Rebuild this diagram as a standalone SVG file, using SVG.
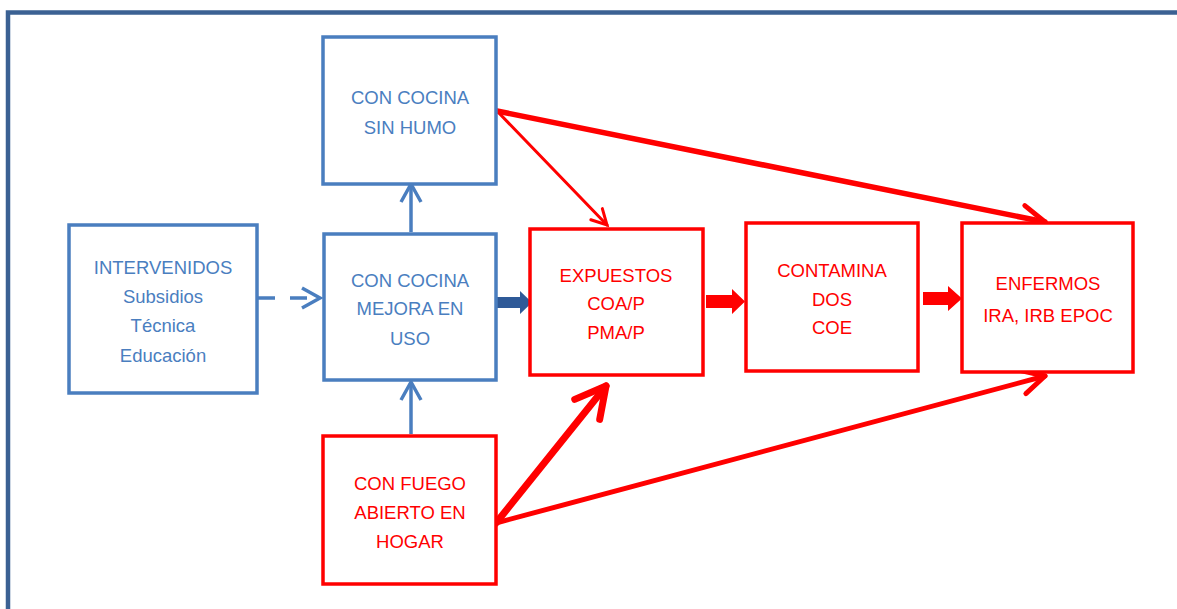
<svg xmlns="http://www.w3.org/2000/svg" width="1177" height="609" viewBox="0 0 1177 609">
<defs>
<style>
.bb{fill:#fff;stroke:#4a7ebf;stroke-width:3.5}
.rb{fill:#fff;stroke:#ff0000;stroke-width:3.5}
.bt{fill:#4a7ebf;font-family:"Liberation Sans",Arial,sans-serif;font-size:18.5px;text-anchor:middle}
.rt{fill:#ff0000;font-family:"Liberation Sans",Arial,sans-serif;font-size:18.5px;text-anchor:middle}
.bl{fill:none;stroke:#4a7ebf;stroke-width:3.5}
.rl{fill:none;stroke:#ff0000;stroke-linecap:round}
</style>
<marker id="hb" markerUnits="userSpaceOnUse" orient="auto" overflow="visible" markerWidth="1" markerHeight="1">
<path d="M-17,-10 L1,0 L-17,10" fill="none" stroke="#4a7ebf" stroke-width="3.5" stroke-linejoin="miter"/>
</marker>
<marker id="hr1" markerUnits="userSpaceOnUse" orient="auto" overflow="visible" markerWidth="1" markerHeight="1">
<path d="M-15,-8 L0,0 L-15,8" fill="none" stroke="#ff0000" stroke-width="3" stroke-linecap="round"/>
</marker>
<marker id="hr2" markerUnits="userSpaceOnUse" orient="auto" overflow="visible" markerWidth="1" markerHeight="1">
<path d="M-23,-12 L0,0 L-23,12" fill="none" stroke="#ff0000" stroke-width="5" stroke-linecap="round" stroke-linejoin="round"/>
</marker>
<marker id="hr3" markerUnits="userSpaceOnUse" orient="auto" overflow="visible" markerWidth="1" markerHeight="1">
<path d="M-30,-16 L0,0 L-30,16" fill="none" stroke="#ff0000" stroke-width="7" stroke-linecap="round" stroke-linejoin="round"/>
</marker>
</defs>
<rect width="1177" height="609" fill="#fff"/>
<rect x="8" y="12.5" width="1220" height="700" fill="none" stroke="#3b6193" stroke-width="4.5"/>

<g id="connectors">
<line x1="258" y1="298" x2="319" y2="298" class="bl" stroke-dasharray="17,15" marker-end="url(#hb)"/>
<line x1="411" y1="232" x2="411" y2="185" class="bl" marker-end="url(#hb)"/>
<line x1="411" y1="434" x2="411" y2="383" class="bl" marker-end="url(#hb)"/>
<path d="M497,297 L520,297 L520,291 L532,302.5 L520,314 L520,308 L497,308 Z" fill="#2f5a98"/>
<path d="M706,295 L732,295 L732,289 L745,301.5 L732,314 L732,308 L706,308 Z" fill="#ff0000"/>
<path d="M923,292 L948,292 L948,286 L962,298.5 L948,311 L948,305 L923,305 Z" fill="#ff0000"/>
<line x1="497" y1="111" x2="607" y2="225" class="rl" stroke-width="3" marker-end="url(#hr1)"/>
<line x1="497" y1="111" x2="1045" y2="222" class="rl" stroke-width="5.5" marker-end="url(#hr2)"/>
<line x1="496" y1="523" x2="606" y2="386" class="rl" stroke-width="7" marker-end="url(#hr3)"/>
<line x1="496" y1="523" x2="1045" y2="376" class="rl" stroke-width="5" marker-end="url(#hr2)"/>
</g>

<g id="intervenidos">
<rect x="69" y="225" width="188" height="168" class="bb"/>
<text class="bt" x="163" y="274">INTERVENIDOS</text>
<text class="bt" x="163" y="303">Subsidios</text>
<text class="bt" x="163" y="332">Técnica</text>
<text class="bt" x="163" y="362">Educación</text>
</g>
<g id="sinhumo">
<rect x="323" y="37" width="173" height="147" class="bb"/>
<text class="bt" x="410" y="104">CON COCINA</text>
<text class="bt" x="410" y="134">SIN HUMO</text>
</g>
<g id="mejora">
<rect x="324" y="234" width="172" height="146" class="bb"/>
<text class="bt" x="410" y="287">CON COCINA</text>
<text class="bt" x="410" y="315">MEJORA EN</text>
<text class="bt" x="410" y="345">USO</text>
</g>
<g id="fuego">
<rect x="323" y="436" width="173" height="148" class="rb"/>
<text class="rt" x="410" y="490">CON FUEGO</text>
<text class="rt" x="410" y="519">ABIERTO EN</text>
<text class="rt" x="410" y="548">HOGAR</text>
</g>
<g id="expuestos">
<rect x="530" y="229" width="173" height="146" class="rb"/>
<text class="rt" x="616" y="282">EXPUESTOS</text>
<text class="rt" x="616" y="310">COA/P</text>
<text class="rt" x="616" y="339">PMA/P</text>
</g>
<g id="contaminados">
<rect x="746" y="223" width="172" height="148" class="rb"/>
<text class="rt" x="832" y="277">CONTAMINA</text>
<text class="rt" x="832" y="306">DOS</text>
<text class="rt" x="832" y="334">COE</text>
</g>
<g id="enfermos">
<rect x="962" y="223" width="171" height="149" class="rb"/>
<text class="rt" x="1048" y="290">ENFERMOS</text>
<text class="rt" x="1048" y="322">IRA, IRB EPOC</text>
</g>
</svg>
